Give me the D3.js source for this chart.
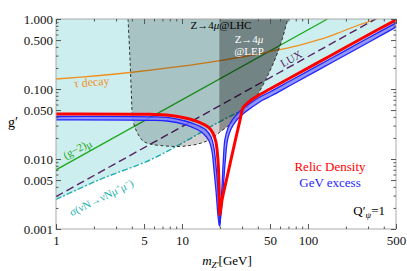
<!DOCTYPE html>
<html>
<head>
<meta charset="utf-8">
<script src="https://cdn.jsdelivr.net/npm/d3@7"></script>
<style>
	body { margin: 0; background: #fff; }
	svg text { font-family: "Liberation Serif", "DejaVu Serif", serif; }
</style>
</head>
<body>
<svg id="chart" width="407" height="271" font-family="Liberation Serif"></svg>
<script>
// values, as [m_Z' (GeV), g']
const relicDensity = [
	[1, 0.0440], [5.57, 0.0435], [7.60, 0.0425], [10.6, 0.0385], [13.9, 0.0332],
	[16.1, 0.0287], [17.6, 0.0235], [18.6, 0.0175], [19.3, 0.0097], [19.7, 0.00425],
	[20.0, 0.00158], [20.8, 0.0026], [23.2, 0.00631], [25.9, 0.01534], [28.9, 0.0361],
	[30.5, 0.0535], [34.6, 0.0674], [41.6, 0.0834], [49.9, 0.100], [71.9, 0.1436],
	[149.6, 0.296], [310, 0.611], [499, 0.968]
];
const gevExcessUpper = [
	[1, 0.0405], [5.57, 0.0401], [7.60, 0.0392], [10.6, 0.0349], [13.4, 0.0301],
	[15.5, 0.0260], [17.0, 0.0206], [17.9, 0.0148], [18.6, 0.0082], [19.3, 0.0036],
	[20.0, 0.0011], [20.4, 0.0022], [20.8, 0.0041], [21.3, 0.0097], [21.9, 0.0187],
	[23.2, 0.0277], [25.4, 0.0373], [28.9, 0.0485], [34.6, 0.0621], [41.6, 0.0769],
	[49.9, 0.0906], [71.9, 0.130], [149.6, 0.268], [310, 0.553], [499, 0.877]
];
const gevExcessLower = [
	[1, 0.0361], [5.57, 0.0357], [7.60, 0.0349], [10.6, 0.0311], [13.2, 0.0264],
	[14.9, 0.0228], [16.4, 0.0181], [17.3, 0.0130], [17.9, 0.0074], [18.6, 0.0036],
	[19.8, 0.0011], [20.6, 0.0020], [21.3, 0.0041], [22.1, 0.0097], [23.0, 0.0187],
	[24.5, 0.0268], [26.8, 0.0349], [31.1, 0.0454], [36.6, 0.0562], [43.1, 0.0685],
	[51.8, 0.0807], [74.6, 0.116], [155, 0.239], [322, 0.493], [499, 0.769]
];
const tauDecay = [
	[1, 0.139], [2.23, 0.156], [3.87, 0.172], [9.64, 0.210], [20.0, 0.255],
	[34.6, 0.301], [49.9, 0.343], [86.4, 0.425], [124.5, 0.510], [169.8, 0.621],
	[236, 0.781], [353, 1.0]
];
const gMinus2 = [[1, 0.007], [143, 1.0]];
const luxLine = [[1, 0.0029], [345, 1.0]];
const trident = [
	[1, 0.00264], [2.23, 0.00509], [5.57, 0.00968], [10.6, 0.0178],
	[18.9, 0.0324], [29.9, 0.0493]
];
// Z -> 4mu bound, left edge, bottom and right edge
const lhcBound = [
	[3.73, 1.0], [3.87, 0.260], [3.97, 0.0821], [4.08, 0.0361], [4.39, 0.0243],
	[4.90, 0.0181], [5.57, 0.0164], [6.69, 0.0156], [9.13, 0.0151], [11.6, 0.0156],
	[13.9, 0.0167], [16.1, 0.0184], [18.3, 0.0213], [20.0, 0.0243], [23.2, 0.0296],
	[26.8, 0.0373], [31.1, 0.0485], [35.9, 0.0652], [40.1, 0.0848], [44.8, 0.122],
	[49.9, 0.181], [55.7, 0.287], [62.2, 0.501], [69.4, 0.968], [70.7, 1.0]
];
const lepMin = 19.8;
const xTicks = [1, 5, 10, 50, 100, 500];
const xMinor = [2, 3, 4, 6, 7, 8, 9, 20, 30, 40, 60, 70, 80, 90, 200, 300, 400];
const yTicks = [0.001, 0.005, 0.01, 0.05, 0.1, 0.5, 1];
const yMinor = [0.002, 0.003, 0.004, 0.006, 0.007, 0.008, 0.009, 0.02, 0.03, 0.04,
	0.06, 0.07, 0.08, 0.09, 0.2, 0.3, 0.4, 0.6, 0.7, 0.8, 0.9];

const SERIF = '"Liberation Serif", "DejaVu Serif", serif';
const margin = { top: 19, right: 11, bottom: 42, left: 56 },
	width = 407 - margin.left - margin.right,
	height = 271 - margin.top - margin.bottom;

const svg = d3.select('#chart');
const x = d3.scaleLog().domain([1, 500]).range([margin.left, margin.left + width]);
const y = d3.scaleLog().domain([0.001, 1]).range([margin.top + height, margin.top]);

svg.append('clipPath').attr('id', 'plot')
	.append('rect')
	.attr('x', margin.left).attr('y', margin.top)
	.attr('width', width).attr('height', height);

const line = d3.line().x(d => x(d[0])).y(d => y(d[1]));
const smooth = d3.line().x(d => x(d[0])).y(d => y(d[1]))
	.curve(d3.curveCatmullRom.alpha(0.5));

const plot = svg.append('g').attr('clip-path', 'url(#plot)');

// excluded (light cyan) region above the trident bound
const cyanRegion = trident
	.concat(gevExcessLower.filter(d => d[0] > 35))
	.concat([[500, 0.769], [500, 1], [1, 1]]);
plot.append('path')
	.attr('d', line(cyanRegion) + 'Z')
	.attr('fill', '#cdeeee');

plot.append('path').attr('d', line(gMinus2))
	.attr('fill', 'none').attr('stroke', '#22aa22').attr('stroke-width', 1.3);
plot.append('path').attr('d', smooth(tauDecay))
	.attr('fill', 'none').attr('stroke', '#f0901e').attr('stroke-width', 1.3);
plot.append('path').attr('d', line(luxLine))
	.attr('fill', 'none').attr('stroke', '#552266').attr('stroke-width', 1.4)
	.attr('stroke-dasharray', '8,4');
plot.append('path').attr('d', smooth(trident))
	.attr('fill', 'none').attr('stroke', '#22b0b0').attr('stroke-width', 1.4)
	.attr('stroke-dasharray', '6,2,2,2');

// Z -> 4mu regions
plot.append('path')
	.attr('d', smooth(lhcBound) + 'Z')
	.attr('fill', '#000').attr('fill-opacity', 0.18);
const lepRegion = [[lepMin, 1], [lepMin, 0.0245]].concat(lhcBound.filter(d => d[0] >= 20));
plot.append('path')
	.attr('d', line(lepRegion.slice(0, 2)) + smooth(lepRegion.slice(1)).replace('M', 'L') + 'Z')
	.attr('fill', '#000').attr('fill-opacity', 0.32);
plot.append('path').attr('d', smooth(lhcBound))
	.attr('fill', 'none').attr('stroke', '#333').attr('stroke-width', 1)
	.attr('stroke-dasharray', '3,2.5');

// GeV excess band and relic density
plot.append('path')
	.attr('d', smooth(gevExcessUpper.concat(gevExcessLower.slice().reverse())) + 'Z')
	.attr('fill', '#7f7fff').attr('fill-opacity', 0.8);
[gevExcessUpper, gevExcessLower].forEach(s => {
	plot.append('path').attr('d', smooth(s))
		.attr('fill', 'none').attr('stroke', '#2424ff').attr('stroke-width', 1.3);
});
plot.append('path').attr('d', smooth(relicDensity))
	.attr('fill', 'none').attr('stroke', '#ff0000').attr('stroke-width', 3)
	.attr('stroke-linejoin', 'round');

// frame and ticks
svg.append('rect')
	.attr('x', margin.left).attr('y', margin.top)
	.attr('width', width).attr('height', height)
	.attr('fill', 'none').attr('stroke', '#aaa');

function ticks (axis, tx, ty, values, size, labels) {
	const g = svg.append('g')
		.attr('transform', `translate(${tx},${ty})`)
		.call(axis.tickValues(values).tickSize(size).tickPadding(labels ? 7 : 3)
			.tickFormat(labels || ''));
	g.attr('font-family', SERIF);
	g.select('.domain').remove();
	g.selectAll('line').attr('stroke', '#555');
	g.selectAll('text')
		.attr('font-family', SERIF)
		.attr('font-size', 13).attr('fill', '#111');
	return g;
}
ticks(d3.axisBottom(x), 0, margin.top + height, xTicks, -5, d3.format('d'));
ticks(d3.axisBottom(x), 0, margin.top + height, xMinor, -2.5);
ticks(d3.axisTop(x), 0, margin.top, xTicks, -5);
ticks(d3.axisTop(x), 0, margin.top, xMinor, -2.5);
ticks(d3.axisLeft(y), margin.left, 0, yTicks, -5, d3.format('.3f')).selectAll('text').attr('x', -3);
ticks(d3.axisLeft(y), margin.left, 0, yMinor, -2.5);
ticks(d3.axisRight(y), margin.left + width, 0, yTicks, -5);
ticks(d3.axisRight(y), margin.left + width, 0, yMinor, -2.5);

// axis titles
const xt = svg.append('text').attr('x', 227).attr('y', 265)
	.attr('text-anchor', 'middle').attr('font-size', 13);
xt.append('tspan').attr('font-style', 'italic').text('m');
xt.append('tspan').attr('font-size', 9).attr('font-style', 'italic').attr('dy', 3).text('Z\u2032');
xt.append('tspan').attr('dy', -3).text('[GeV]');

svg.append('text').attr('x', 8).attr('y', 127).attr('font-size', 14).text('g\u2032');

// annotations
function label (tx, ty, angle, color, size) {
	return svg.append('text')
		.attr('transform', `translate(${tx},${ty}) rotate(${angle})`)
		.attr('text-anchor', 'middle').attr('font-size', size).attr('fill', color);
}
label(92, 86, -5, '#f0901e', 12).text('\u03c4 decay');

const g2 = label(79, 152, -29, '#22aa22', 11);
g2.append('tspan').text('(g\u22122)');
g2.append('tspan').attr('dy', 2).text('\u03bc');

const tr = label(103, 201, -26, '#22b0b0', 11);
tr.append('tspan').text('\u03c3(\u03bdN\u2192\u03bdN\u03bc');
tr.append('tspan').attr('font-size', 7).attr('dy', -4).text('+');
tr.append('tspan').attr('dy', 4).text('\u03bc');
tr.append('tspan').attr('font-size', 7).attr('dy', -4).text('\u2212');
tr.append('tspan').attr('dy', 4).text(')');

label(293, 62, -29, '#552266', 11).text('LUX');

const lhc = label(221, 29, 0, '#000', 11);
lhc.append('tspan').text('Z\u21924');
lhc.append('tspan').attr('font-style', 'italic').text('\u03bc');
lhc.append('tspan').text('@LHC');

const lep = label(249, 43, 0, '#fff', 11);
lep.append('tspan').text('Z\u21924');
lep.append('tspan').attr('font-style', 'italic').text('\u03bc');
label(249, 55, 0, '#fff', 11).text('@LEP');

label(330, 171, 0, '#ff0000', 13).text('Relic Density');
label(330, 187, 0, '#2424ff', 13).text('GeV excess');

const q = svg.append('text').attr('x', 385).attr('y', 215)
	.attr('text-anchor', 'end').attr('font-size', 13);
q.append('tspan').text('Q\u2032');
q.append('tspan').attr('font-size', 9).attr('font-style', 'italic').attr('dy', 3).text('\u03c8');
q.append('tspan').attr('dy', -3).text('=1');

svg.selectAll('text').attr('font-family', SERIF);
</script>
</body>
</html>
